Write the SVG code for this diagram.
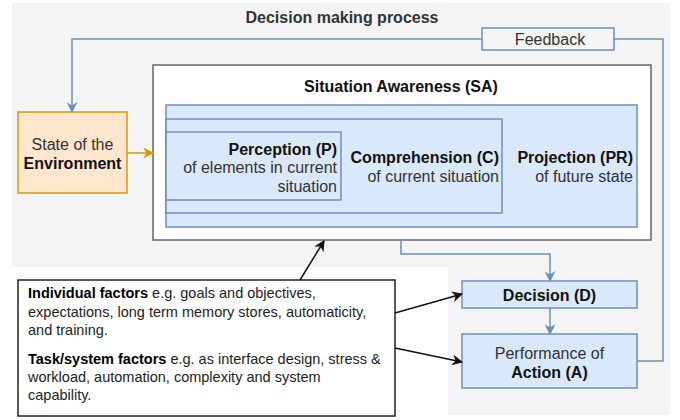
<svg xmlns="http://www.w3.org/2000/svg" width="680" height="420" viewBox="0 0 680 420">
<style>
text{font-family:"Liberation Sans",Arial,sans-serif;font-size:16px;fill:#333}
.b{font-weight:bold;fill:#111}
.f{font-size:14.5px;fill:#222}
.blue{fill:#dae8fc;stroke:#6c8ebf;stroke-width:1.5}
.bl{fill:none;stroke:#6c8ebf;stroke-width:1.5}
.bk{fill:none;stroke:#111;stroke-width:1.5}
.or{fill:none;stroke:#d79b00;stroke-width:1.5}
</style>
<defs>
<marker id="ab" viewBox="0 0 10 10" refX="9" refY="5" markerWidth="11" markerHeight="11" markerUnits="userSpaceOnUse" orient="auto"><path d="M0,0 L10,5 L0,10 L3,5 Z" fill="#6c8ebf"/></marker>
<marker id="ak" viewBox="0 0 10 10" refX="9" refY="5" markerWidth="11" markerHeight="11" markerUnits="userSpaceOnUse" orient="auto"><path d="M0,0 L10,5 L0,10 L3,5 Z" fill="#111"/></marker>
<marker id="ao" viewBox="0 0 10 10" refX="9" refY="5" markerWidth="11" markerHeight="11" markerUnits="userSpaceOnUse" orient="auto"><path d="M0,0 L10,5 L0,10 L3,5 Z" fill="#d79b00"/></marker>
</defs>
<g id="background">
<path d="M12,3 H670 V415 H448 V267 H12 Z" fill="#f4f4f4"/>
<text class="b" x="342" y="23" text-anchor="middle" style="fill:#333">Decision making process</text>
</g>
<g id="sa">
<rect x="153" y="65" width="498" height="175" fill="#fff" stroke="#666" stroke-width="1.5"/>
<text class="b" x="401" y="92" text-anchor="middle">Situation Awareness (SA)</text>
</g>
<g id="projection">
<rect class="blue" x="166" y="105" width="471" height="122"/>
<text class="b" x="633" y="162.5" text-anchor="end">Projection (PR)</text>
<text x="633" y="181.5" text-anchor="end">of future state</text>
</g>
<g id="comprehension">
<rect class="blue" x="166" y="119" width="336" height="94"/>
<text class="b" x="499" y="162.5" text-anchor="end">Comprehension (C)</text>
<text x="499" y="181.5" text-anchor="end">of current situation</text>
</g>
<g id="perception">
<rect class="blue" x="166" y="132" width="175" height="68"/>
<text class="b" x="337" y="154.5" text-anchor="end">Perception (P)</text>
<text x="337" y="173" text-anchor="end">of elements in current</text>
<text x="337" y="191.5" text-anchor="end">situation</text>
</g>
<g id="state">
<rect x="18" y="112" width="109" height="81" fill="#ffe6cc" stroke="#d79b00" stroke-width="1.5"/>
<text x="72.5" y="149.5" text-anchor="middle">State of the</text>
<text class="b" x="72.5" y="168.5" text-anchor="middle">Environment</text>
</g>
<g id="feedback">
<rect x="482" y="28" width="132" height="22" fill="#f4f4f4" stroke="#6c8ebf" stroke-width="1.5"/>
<text x="550" y="44.5" text-anchor="middle">Feedback</text>
</g>
<g id="decision">
<rect class="blue" x="462" y="281" width="175" height="27"/>
<text class="b" x="549.5" y="300.5" text-anchor="middle">Decision (D)</text>
</g>
<g id="action">
<rect class="blue" x="462" y="334" width="175" height="54"/>
<text x="549.5" y="358.5" text-anchor="middle">Performance of</text>
<text class="b" x="549.5" y="377.5" text-anchor="middle">Action (A)</text>
</g>
<g id="factors">
<rect x="18" y="280" width="377" height="136" fill="#fff" stroke="#222" stroke-width="1.5"/>
<text class="f" x="28" y="298"><tspan font-weight="bold" fill="#000">Individual factors</tspan> e.g. goals and objectives,</text>
<text class="f" x="28" y="317">expectations, long term memory stores, automaticity,</text>
<text class="f" x="28" y="335">and training.</text>
<text class="f" x="28" y="364"><tspan font-weight="bold" fill="#000">Task/system factors</tspan> e.g. as interface design, stress &amp;</text>
<text class="f" x="28" y="382">workload, automation, complexity and system</text>
<text class="f" x="28" y="400">capability.</text>
</g>
<g id="connectors">
<path class="bl" d="M637,361 H663 V39 H614"/>
<path class="bl" d="M482,39 H72 V112" marker-end="url(#ab)"/>
<path class="or" d="M127,153 H153" marker-end="url(#ao)"/>
<path class="bl" d="M401,240 V254 H550 V281" marker-end="url(#ab)"/>
<path class="bl" d="M550,308 V334" marker-end="url(#ab)"/>
<path class="bk" d="M300,280 L324,241" marker-end="url(#ak)"/>
<path class="bk" d="M395,313 L462,294" marker-end="url(#ak)"/>
<path class="bk" d="M395,348 L462,362" marker-end="url(#ak)"/>
</g>
</svg>
